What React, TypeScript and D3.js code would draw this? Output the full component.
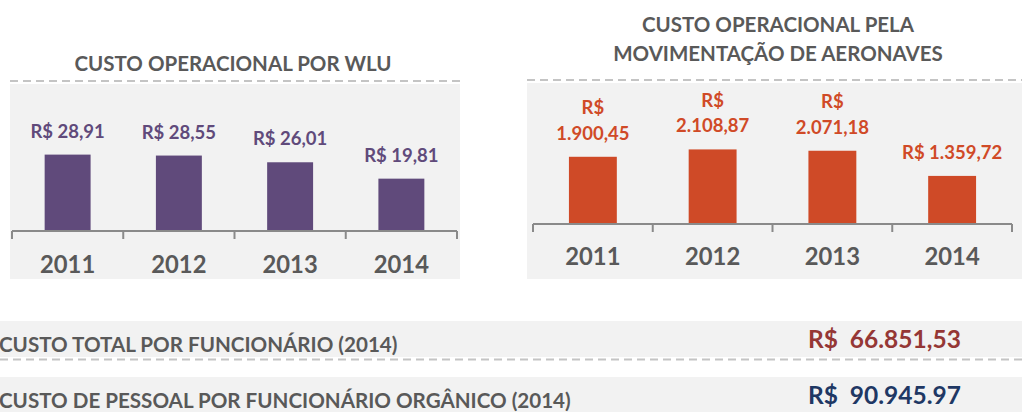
import React, { useRef, useEffect } from 'react';
import * as d3 from 'd3';

// chart data
const years = ['2011', '2012', '2013', '2014'];
const wluCost = [28.91, 28.55, 26.01, 19.81];
const movCost = [1900.45, 2108.87, 2071.18, 1359.72];

const wluTitle = ['CUSTO OPERACIONAL POR WLU'];
const movTitle = ['CUSTO OPERACIONAL PELA', 'MOVIMENTAÇÃO DE AERONAVES'];

const summaryLabels = [
    'CUSTO TOTAL POR FUNCIONÁRIO (2014)',
    'CUSTO DE PESSOAL POR FUNCIONÁRIO ORGÂNICO (2014)',
];
const summaryValues = ['R$  66.851,53', 'R$  90.945.97'];

const ptBR = d3.formatLocale({
    decimal: ',',
    thousands: '.',
    grouping: [3],
    currency: ['R$ ', ''],
});
const fmt = ptBR.format(',.2f');

const FONT = 'Lato, Carlito, Calibri, sans-serif';
const GRAY = '#595959';

const App = () => {
    const svgRef = useRef(null);

    useEffect(() => {
        const svg = d3.select(svgRef.current);
        svg.selectAll('*').remove();

        const drawPanel = (opts) => {
            const { x0, x1, bgTop, bgBottom, axisY, values, domainMax, plotH, color, padding, titleLines, titleX, titleY, yearY, wrapBelow } = opts;
            const g = svg.append('g');

            // background + dashed line
            g.append('rect')
                .attr('x', opts.bgX0).attr('y', bgTop)
                .attr('width', opts.bgX1 - opts.bgX0).attr('height', bgBottom - bgTop)
                .attr('fill', '#f2f2f2');
            g.append('line')
                .attr('x1', opts.bgX0).attr('x2', opts.bgX1)
                .attr('y1', bgTop - 3).attr('y2', bgTop - 3)
                .attr('stroke', '#c4c4c4').attr('stroke-width', 2)
                .attr('stroke-dasharray', '8 5');

            // title
            g.selectAll('.title')
                .data(titleLines)
                .enter().append('text')
                .attr('x', titleX)
                .attr('y', (d, i) => titleY + i * 28.7)
                .attr('text-anchor', 'middle')
                .attr('font-family', FONT).attr('font-weight', 700)
                .attr('font-size', 20.5)
                .attr('fill', GRAY)
                .text(d => d);

            const x = d3.scaleBand().domain(years).range([x0, x1]).paddingInner(padding).paddingOuter(padding / 2);
            const y = d3.scaleLinear().domain([0, domainMax]).range([axisY, axisY - plotH]);

            g.selectAll('.bar')
                .data(values)
                .enter().append('rect')
                .attr('x', (d, i) => x(years[i]))
                .attr('y', d => y(d))
                .attr('width', x.bandwidth())
                .attr('height', d => axisY - y(d))
                .attr('fill', color);

            // axis line and ticks at band edges
            g.append('line')
                .attr('x1', x0).attr('x2', x1)
                .attr('y1', axisY).attr('y2', axisY)
                .attr('stroke', '#8a8a8a').attr('stroke-width', 2);
            const edges = d3.range(years.length + 1).map(i => x0 + i * x.step());
            g.selectAll('.tick')
                .data(edges)
                .enter().append('line')
                .attr('x1', d => d).attr('x2', d => d)
                .attr('y1', axisY).attr('y2', axisY + 8)
                .attr('stroke', '#8a8a8a').attr('stroke-width', 2);

            g.selectAll('.year')
                .data(years)
                .enter().append('text')
                .attr('x', d => x(d) + x.bandwidth() / 2)
                .attr('y', yearY)
                .attr('text-anchor', 'middle')
                .attr('font-family', FONT).attr('font-weight', 700)
                .attr('font-size', 23.8)
                .attr('fill', GRAY)
                .text(d => d);

            // value labels
            values.forEach((v, i) => {
                const cx = x(years[i]) + x.bandwidth() / 2;
                const top = y(v);
                const lines = top < wrapBelow ? ['R$', fmt(v)] : ['R$ ' + fmt(v)];
                const t = g.append('text')
                    .attr('text-anchor', 'middle')
                    .attr('font-family', FONT).attr('font-weight', 700)
                    .attr('font-size', 18.5)
                    .attr('fill', opts.labelColor);
                lines.forEach((l, j) => {
                    t.append('tspan')
                        .attr('x', cx)
                        .attr('y', top - 17 - (lines.length - 1 - j) * 25.7)
                        .text(l);
                });
            });
        };

        drawPanel({
            bgX0: 10, bgX1: 460, bgTop: 84, bgBottom: 279,
            x0: 12, x1: 457, axisY: 231, values: wluCost, domainMax: 40, plotH: 105.7,
            color: '#604a7b', labelColor: '#604a7b', padding: 0.587,
            titleLines: wluTitle, titleX: 233, titleY: 71, yearY: 273, wrapBelow: -1,
        });

        drawPanel({
            bgX0: 527, bgX1: 1022, bgTop: 83, bgBottom: 279,
            x0: 533, x1: 1012, axisY: 224, values: movCost, domainMax: 3000, plotH: 106.1,
            color: '#cf4a27', labelColor: '#d04a27', padding: 0.6,
            titleLines: movTitle, titleX: 778, titleY: 32, yearY: 265, wrapBelow: 165,
        });

        // summary rows
        const rowTop = [321, 377];
        const valueColors = ['#953735', '#1f3864'];
        summaryLabels.forEach((label, i) => {
            svg.append('rect')
                .attr('x', 0).attr('y', rowTop[i])
                .attr('width', 1022).attr('height', 36)
                .attr('fill', '#f2f2f2');
            svg.append('text')
                .attr('x', -1).attr('y', rowTop[i] + 31)
                .attr('font-family', FONT).attr('font-weight', 700)
                .attr('font-size', 20.6)
                .attr('fill', GRAY)
                .text(label);
            svg.append('text')
                .attr('x', 808).attr('y', rowTop[i] + 27)
                .attr('font-family', FONT).attr('font-weight', 700)
                .attr('font-size', 24.5)
                .attr('fill', valueColors[i])
                .style('white-space', 'pre')
                .text(summaryValues[i]);
        });
        svg.append('line')
            .attr('x1', 0).attr('x2', 1022)
            .attr('y1', 359.5).attr('y2', 359.5)
            .attr('stroke', '#c4c4c4').attr('stroke-width', 2)
            .attr('stroke-dasharray', '8 5');
    }, []);

    return (
        <div style={{ position: 'absolute', left: 0, top: 0 }}>
            <svg ref={svgRef} width={1022} height={412} style={{ display: 'block' }}></svg>
        </div>
    );
};

export default App;
